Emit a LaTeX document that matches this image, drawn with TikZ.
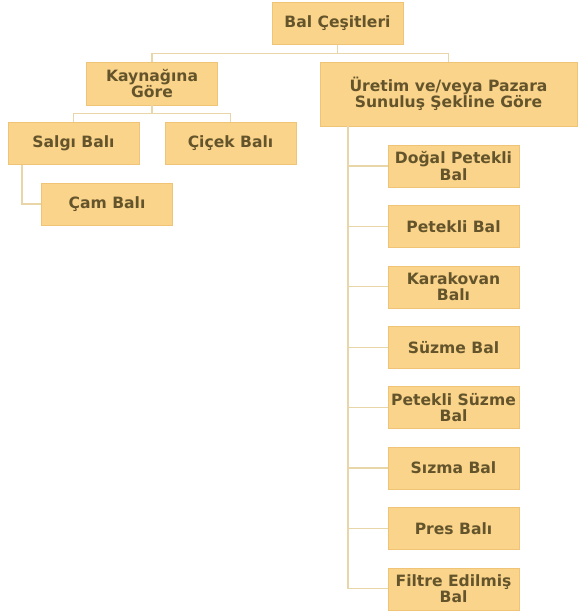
\documentclass[tikz,border=0pt]{standalone}
\usepackage{fontspec}
\setmainfont{DejaVu Sans}
\usetikzlibrary{positioning}

\definecolor{bal}{RGB}{250,212,138}
\definecolor{kenar}{RGB}{240,196,118}
\definecolor{cizgi}{RGB}{232,214,168}
\definecolor{yazi}{RGB}{100,84,44}

\tikzset{
  kutu/.style={draw=kenar, fill=bal, text=yazi, align=center,
    font=\bfseries\fontsize{13.3}{14}\selectfont,
    minimum width=3.93cm, minimum height=1.26cm, inner sep=1pt},
  hat/.style={draw=cizgi, line width=0.9pt}
}

\begin{document}
\begin{tikzpicture}[x=0.03cm, y=-0.03cm]
   \useasboundingbox (0,0) rectangle (580,612);

   % ust seviye
   \node[kutu] (kok) at (337.5,23.5) {Bal Çeşitleri};
   \node[kutu, minimum height=1.29cm] (kaynak) at (152,83.5) {Kaynağına\\Göre};
   \node[kutu, minimum width=7.71cm, minimum height=1.92cm] (uretim) at (448.5,94)
        {Üretim ve/veya Pazara\\Sunuluş Şekline Göre};

   % kaynagina gore
   \node[kutu] (salgi) at (73.5,143.5) {Salgı Balı};
   \node[kutu] (cicek) at (230.5,143.5) {Çiçek Balı};
   \node[kutu] (cam)   at (107,204) {Çam Balı};

   % uretim / sunulus sekli
   \foreach \ad [count=\i from 0] in {{Doğal Petekli\\Bal}, {Petekli Bal}, {Karakovan\\Balı},
        {Süzme Bal}, {Petekli Süzme\\Bal}, {Sızma Bal}, {Pres Balı}, {Filtre Edilmiş\\Bal}}
     \node[kutu] (tur\i) at (453.5,166+60.4*\i) {\ad};

   % baglantilar
   \draw[hat] (kok.south) -- ++(0,9) -| (kaynak.north);
   \draw[hat] (kok.south) -- ++(0,9) -| (uretim.north);
   \draw[hat] (kaynak.south) -- ++(0,8) -| (salgi.north);
   \draw[hat] (kaynak.south) -- ++(0,8) -| (cicek.north);

   \coordinate (salgialt) at (22,165);
   \draw[hat] (salgialt) |- (cam.west);

   \coordinate (omurga) at (348,126);
   \foreach \i in {0,...,7}
     \draw[hat] (omurga) |- (tur\i.west);
\end{tikzpicture}
\end{document}
